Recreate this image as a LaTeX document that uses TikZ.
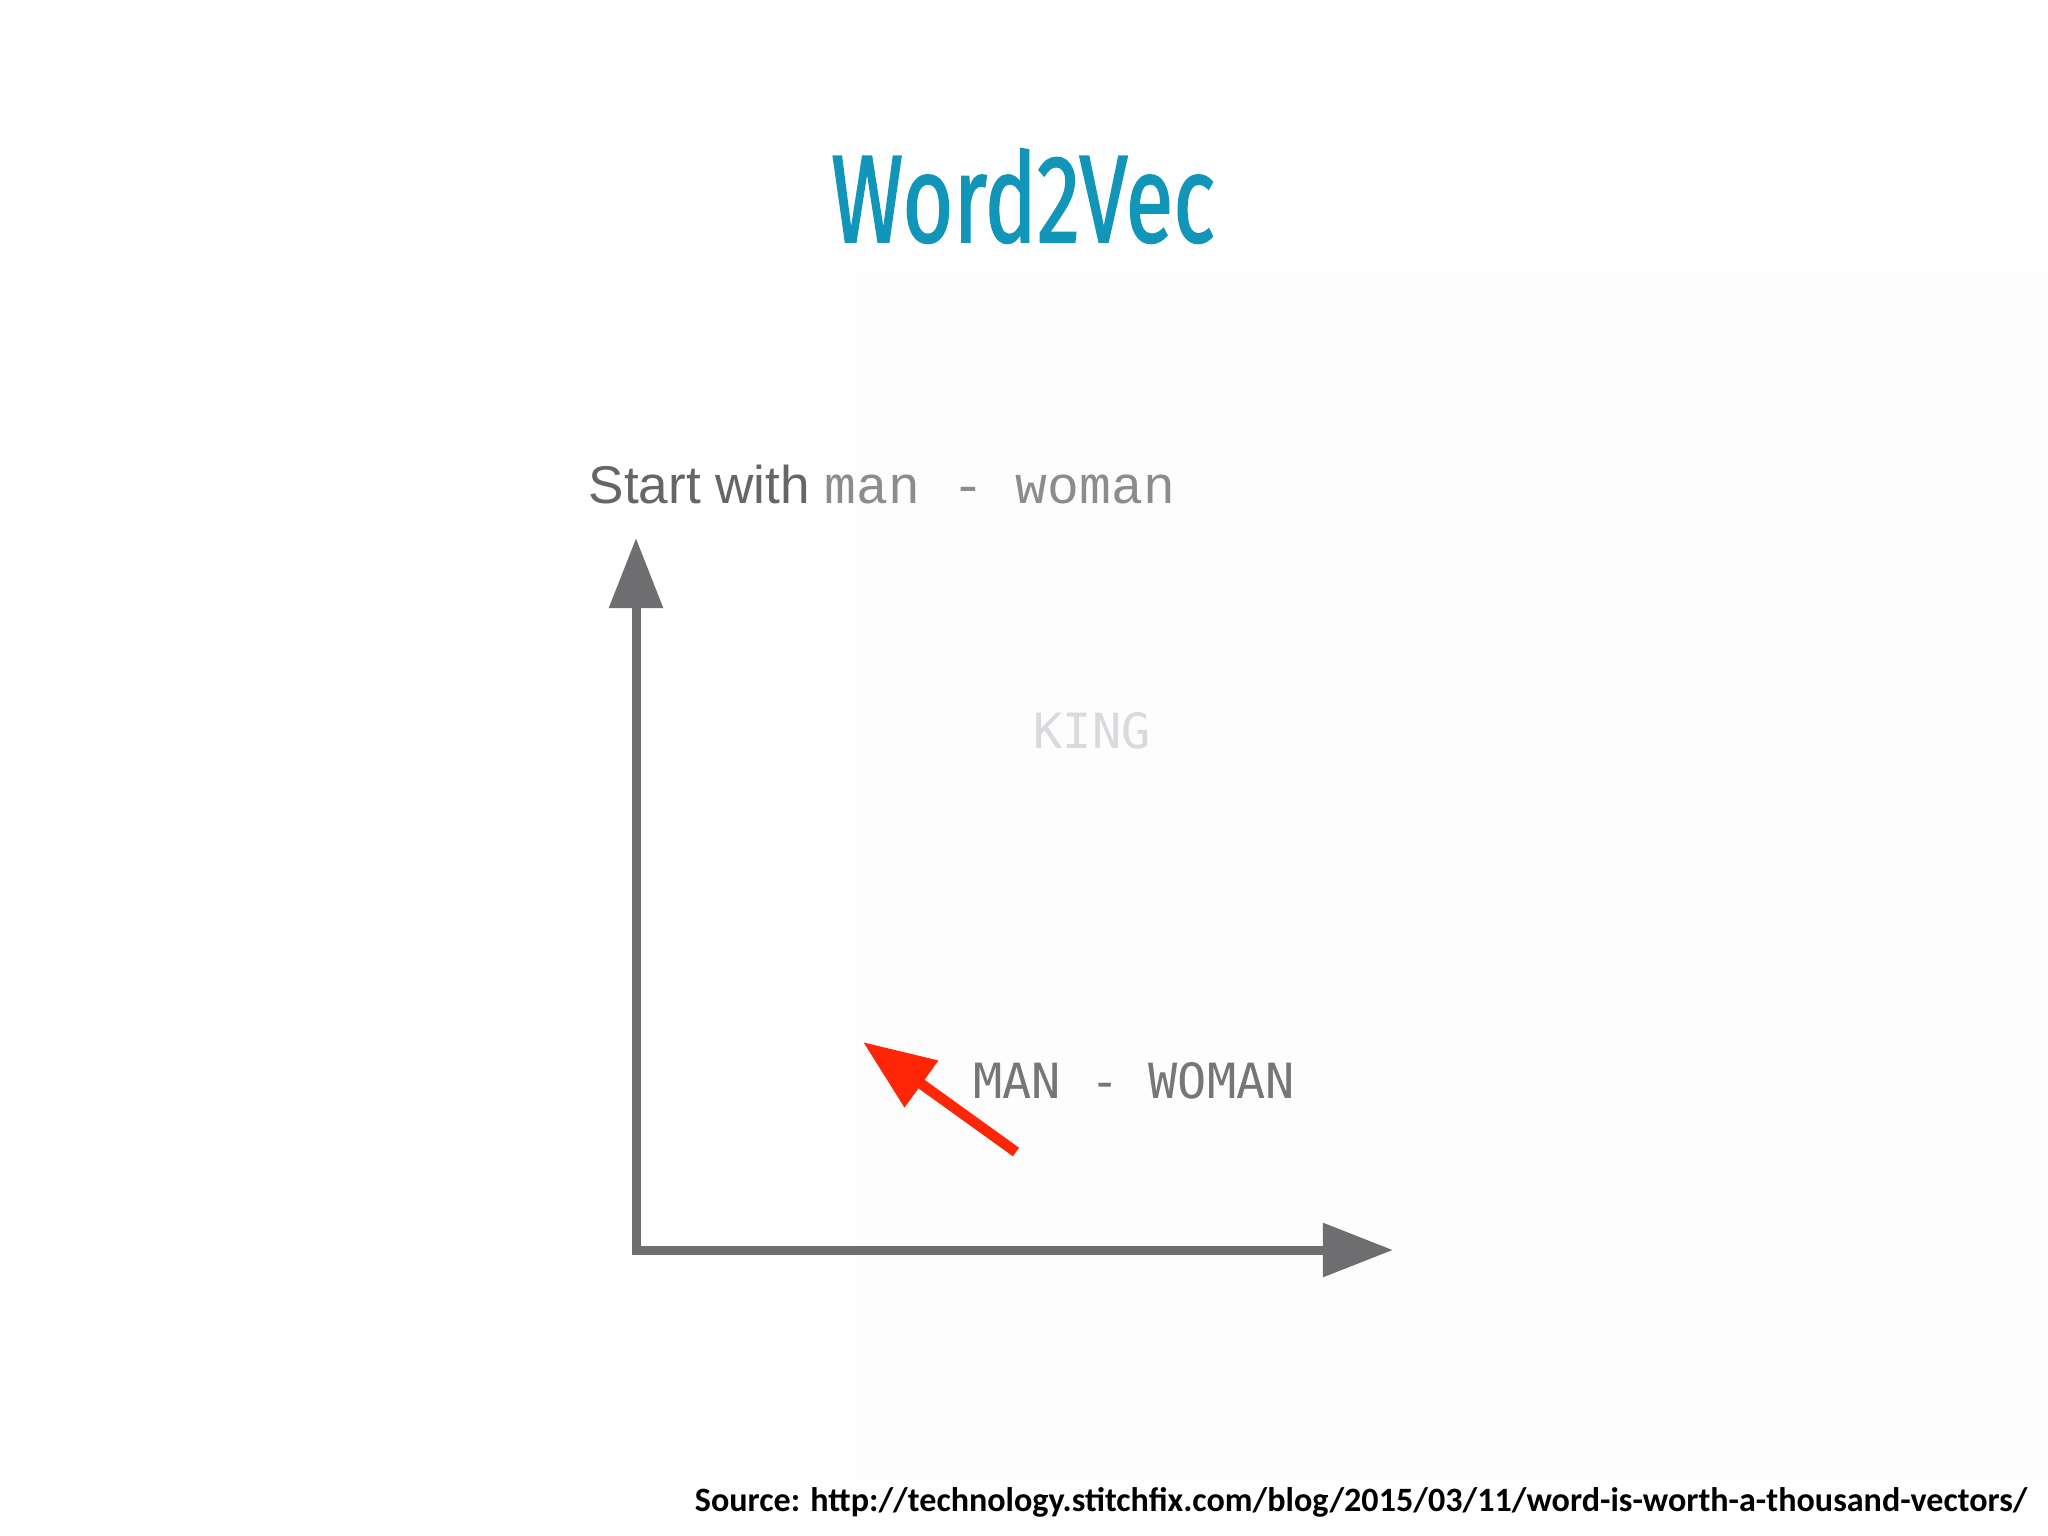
\documentclass[tikz,border=0pt]{standalone}
\usepackage{fontspec}
\setmainfont{Liberation Sans}
\newfontfamily\titlefont[FakeStretch=0.70, FakeBold=1.2]{Fira Sans}
\newfontfamily\typefont{Liberation Mono}
\newfontfamily\labelfont{DejaVu Sans Mono}
\newfontfamily\notefont{Carlito}
\usetikzlibrary{arrows.meta}
\definecolor{titleblue}{RGB}{17,150,186}
\definecolor{axisgray}{RGB}{110,110,112}
\definecolor{diffred}{RGB}{255,38,8}
\definecolor{textgray}{RGB}{102,102,102}
\definecolor{codegray}{RGB}{140,140,140}
\definecolor{kinggray}{RGB}{218,218,222}
\definecolor{wordgray}{RGB}{118,118,120}
\definecolor{panelgray}{RGB}{253,253,254}
\tikzset{
    axis/.style={line width=0.09cm, axisgray, {Triangle[length=0.7cm,width=0.52cm]}-{Triangle[length=0.7cm,width=0.52cm]}},
    diff/.style={line width=0.105cm, diffred, -{Triangle[length=0.72cm,width=0.55cm]}},
    word/.style={font=\labelfont\fontsize{13.8}{16}\selectfont, inner sep=0pt},
}

\begin{document}
\begin{tikzpicture}[x=0.01cm, y=-0.01cm]
        \useasboundingbox (0,0) rectangle (2048,1536);
        \fill [panelgray] (855,273) rectangle (2048,1480);
        \node [font=\titlefont\fontsize{35.5}{40}\selectfont, text=titleblue] (title) at (1023,196) {Word2Vec};
        \node [anchor=base west, inner sep=0pt, font=\fontsize{15.1}{18}\selectfont] (start) at (588,503)
            {\textcolor{textgray}{Start with} \textcolor{codegray}{\typefont man - woman}};
        \coordinate (ytip) at (636,538);
        \coordinate (origin) at (636,1250);
        \coordinate (xtip) at (1393,1250);
        \draw [axis] (ytip) -- (origin) -- (xtip);
        \node [word, text=kinggray] (king) at (1092,731) {KING};
        \node [word, text=wordgray] (manwoman) at (1134,1081) {MAN - WOMAN};
        \coordinate (difftail) at (1016,1152);
        \coordinate (diffhead) at (863,1042);
        \draw [diff] (difftail) -- (diffhead);
        \node [anchor=east, inner sep=0pt, font=\notefont\bfseries\fontsize{9.7}{11}\selectfont] (source) at (2028,1502)
            {Source: http://technology.stitchfix.com/blog/2015/03/11/word-is-worth-a-thousand-vectors/};
    \end{tikzpicture}
\end{document}
